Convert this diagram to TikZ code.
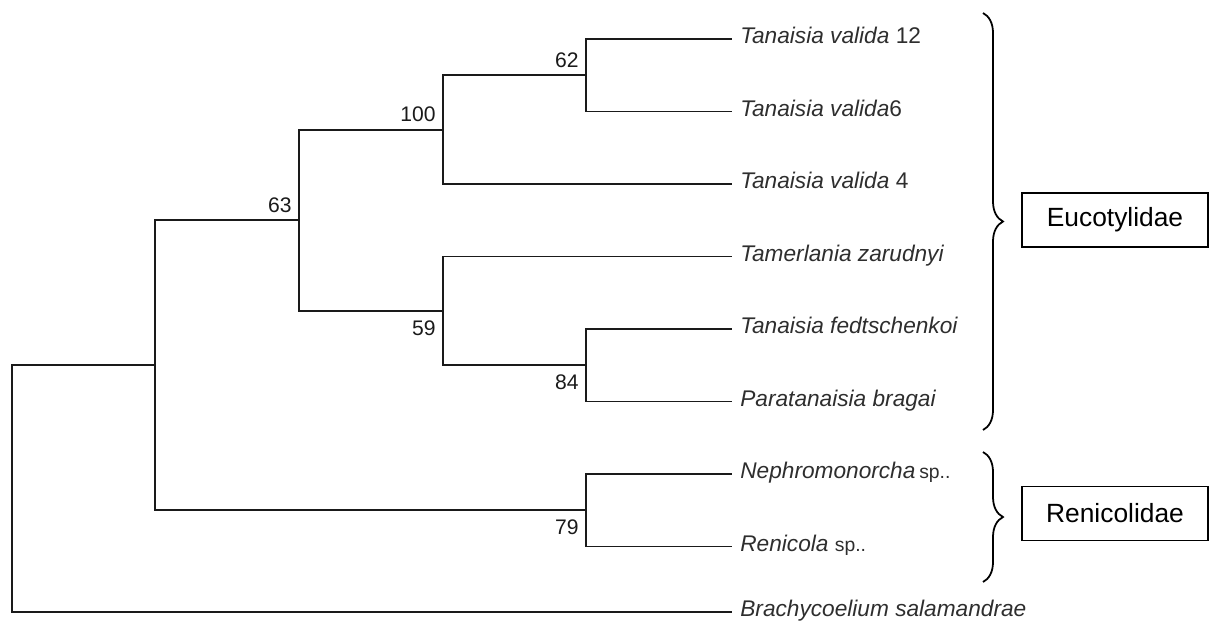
\documentclass[tikz,border=0pt]{standalone}
\usepackage{fontspec}
\setmainfont{Liberation Sans}
\usetikzlibrary{positioning,decorations.pathreplacing}
\definecolor{treeInk}{HTML}{1A1A1A}
\definecolor{taxonInk}{HTML}{2E2E2E}

\begin{document}
\begin{tikzpicture}[x=0.02cm,y=-0.02cm,
    branch/.style={draw=treeInk,line width=1.1pt},
    taxon/.style={anchor=mid west,inner xsep=0.16cm,inner ysep=0pt,text=taxonInk,
      font=\fontsize{12.9}{15}\selectfont},
    support/.style={inner sep=0pt,text=treeInk,font=\fontsize{12}{14}\selectfont},
    familybox/.style={draw,line width=1pt,minimum width=3.72cm,minimum height=1.08cm,
      font=\fontsize{15}{18}\selectfont},
    clade/.style={draw,line width=1pt,decorate,decoration={brace,amplitude=0.4cm}}]
  \useasboundingbox (0,0) rectangle (1210,625);

  % terminal taxa
  \node[taxon] (tv12) at (732,39) {\textit{Tanaisia valida} 12};
  \node[taxon] (tv6) at (732,111.5) {\textit{Tanaisia valida}6};
  \node[taxon] (tv4) at (732,184) {\textit{Tanaisia valida} 4};
  \node[taxon] (tz) at (732,256.5) {\textit{Tamerlania zarudnyi}};
  \node[taxon] (tf) at (732,329) {\textit{Tanaisia fedtschenkoi}};
  \node[taxon] (pb) at (732,401.5) {\textit{Paratanaisia bragai}};
  \node[taxon] (neph) at (732,474) {\textit{Nephromonorcha}\,{\fontsize{11}{13}\selectfont sp..}};
  \node[taxon] (ren) at (732,546.5) {\textit{Renicola} {\fontsize{11}{13}\selectfont sp..}};
  \node[taxon] (brach) at (732,612) {\textit{Brachycoelium salamandrae}};

  % internal nodes
  \coordinate (n62) at (586,75.25);
  \coordinate (n100) at (443,129.6);
  \coordinate (n84) at (586,365.25);
  \coordinate (n59) at (443,310.9);
  \coordinate (n63) at (299,220.25);
  \coordinate (n79) at (586,510.25);
  \coordinate (ingroup) at (155,365.25);
  \coordinate (root) at (12,488.6);

  % branches
  \draw[branch] (root) |- (ingroup);
  \draw[branch] (root) |- (brach.mid west);
  \draw[branch] (ingroup) |- (n63);
  \draw[branch] (ingroup) |- (n79);
  \draw[branch] (n63) |- (n100);
  \draw[branch] (n63) |- (n59);
  \draw[branch] (n100) |- (n62);
  \draw[branch] (n100) |- (tv4.mid west);
  \draw[branch] (n62) |- (tv12.mid west);
  \draw[branch] (n62) |- (tv6.mid west);
  \draw[branch] (n59) |- (tz.mid west);
  \draw[branch] (n59) |- (n84);
  \draw[branch] (n84) |- (tf.mid west);
  \draw[branch] (n84) |- (pb.mid west);
  \draw[branch] (n79) |- (neph.mid west);
  \draw[branch] (n79) |- (ren.mid west);

  % bootstrap support
  \node[support,above left=0.14cm and 0.14cm of n62] (s62) {62};
  \node[support,above left=0.15cm and 0.14cm of n100] (s100) {100};
  \node[support,above left=0.15cm and 0.14cm of n63] (s63) {63};
  \node[support,below left=0.19cm and 0.14cm of n59] (s59) {59};
  \node[support,below left=0.19cm and 0.14cm of n84] (s84) {84};
  \node[support,below left=0.19cm and 0.14cm of n79] (s79) {79};

  % families
  \draw[clade] (983,13) -- (983,430);
  \draw[clade] (983,452) -- (983,582);
  \node[familybox] (euco) at (1115,220) {Eucotylidae};
  \node[familybox] (reni) at (1115,513.5) {Renicolidae};
\end{tikzpicture}
\end{document}
